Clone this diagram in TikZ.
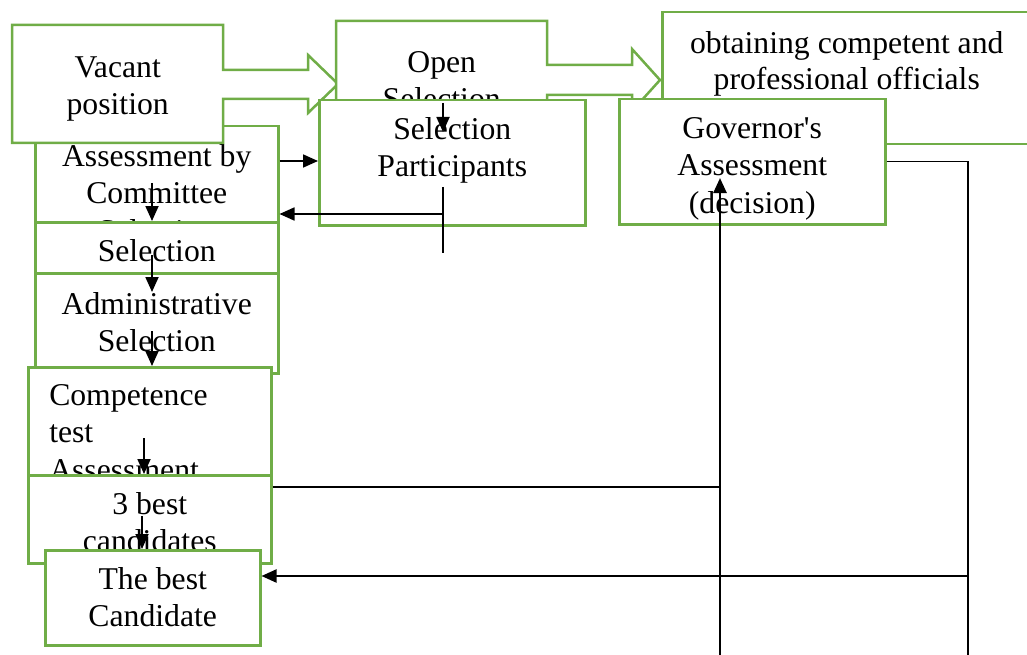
\documentclass[tikz,border=0pt]{standalone}
\usepackage{fontspec}
\setmainfont{Liberation Serif}
\usepackage{tikz}
\usetikzlibrary{arrows.meta}

\definecolor{boxgreen}{HTML}{70AD47}

\begin{document}
\begin{tikzpicture}[x=1pt, y=-1pt,
		every node/.style={font=\fontsize{31.7}{37.5}\selectfont},
		boxtext/.style n args={3}{inner sep=0pt, anchor=north west, align=center, minimum width=#1pt, text height=#2pt, text depth=#3pt},
		box/.style n args={3}{boxtext={#1}{#2}{#3}, draw=boxgreen, line width=2.5pt, fill=white},
		callout/.style={draw=boxgreen, line width=2.5pt, fill=white},
		arr/.style={-{Triangle[length=15pt,width=13pt]}, line width=1.8pt},
		thinline/.style={line width=1.2pt}]
	\useasboundingbox (0,0) rectangle (1027,655);
	% top row
	\node[box={243}{115}{-19}] (committee) at (34,125) {Assessment by\\Committee\\Selection};
	\coordinate (vacantnw) at (12,25);
	\draw[callout] (vacantnw) -- ++(211,0) -- ++(0,45) -- ++(85,0) -- ++(0,-15) -- ++(30,29) -- ++(-30,29) -- ++(0,-14) -- ++(-85,0) -- ++(0,44) -- ++(-211,0) -- cycle;
	\node[boxtext={211}{89.5}{28.5}] (vacant) at (vacantnw) {Vacant\\position};
	\coordinate (opennw) at (336,21);
	\draw[callout] (opennw) -- ++(211,0) -- ++(0,44) -- ++(85,0) -- ++(0,-16) -- ++(28,31) -- ++(-28,31) -- ++(0,-16) -- ++(-85,0) -- ++(0,45) -- ++(-211,0) -- cycle;
	\node[boxtext={211}{88.5}{30.5}] (open) at (opennw) {Open\\Selection};
	\node[box={369}{77}{55}, font=\fontsize{31.7}{36}\selectfont] (goal) at (661,11) {obtaining competent and\\professional officials};
	\node[box={266}{76.5}{48.5}] (participants) at (318,99) {Selection\\Participants};
	\node[box={266}{114}{11}] (governor) at (618,98) {Governor\textquotesingle s\\Assessment\\(decision)};
	% left column
	\node[box={243}{39}{12}] (selection) at (34,221) {Selection};
	\node[box={243}{78.5}{21.5}] (admin) at (34,272) {Administrative\\Selection};
	\node[box={243}{38}{74}, text width=201pt, inner xsep=21pt, align=left] (competence) at (27,366) {Competence\\test\\Assessment};
	\node[box={243}{76.5}{11.5}] (best3) at (27,474) {3 best\\candidates};
	\node[box={215}{76.5}{18.5}] (bestcand) at (44,549) {The best\\Candidate};
	% connectors
	\draw[arr] (443,103) -- (443,132);
	\draw[arr] (committee.east |- 0,161) -- (participants.west |- 0,161);
	\coordinate (fork) at (443,214);
	\draw[thinline] (fork |- 0,187) -- (fork |- 0,253);
	\draw[arr] (fork) -- (committee.east |- fork);
	\draw[arr] (152,183) -- (selection.north -| 152,0);
	\draw[arr] (152,255) -- (152,292);
	\draw[arr] (152,331) -- (competence.north -| 152,0);
	\draw[arr] (144,438) -- (best3.north -| 144,0);
	\draw[arr] (142,516) -- (bestcand.north -| 142,0);
	\draw[thinline] (best3.east |- 0,487) -- (720,487);
	\draw[arr, line width=2.5pt] (720,660) -- (720,178);
	\draw[thinline, line width=1.5pt] (governor.east) -| (968,660);
	\draw[arr, line width=2.2pt] (968,576) -- (bestcand.east |- 0,576);
\end{tikzpicture}
\end{document}
